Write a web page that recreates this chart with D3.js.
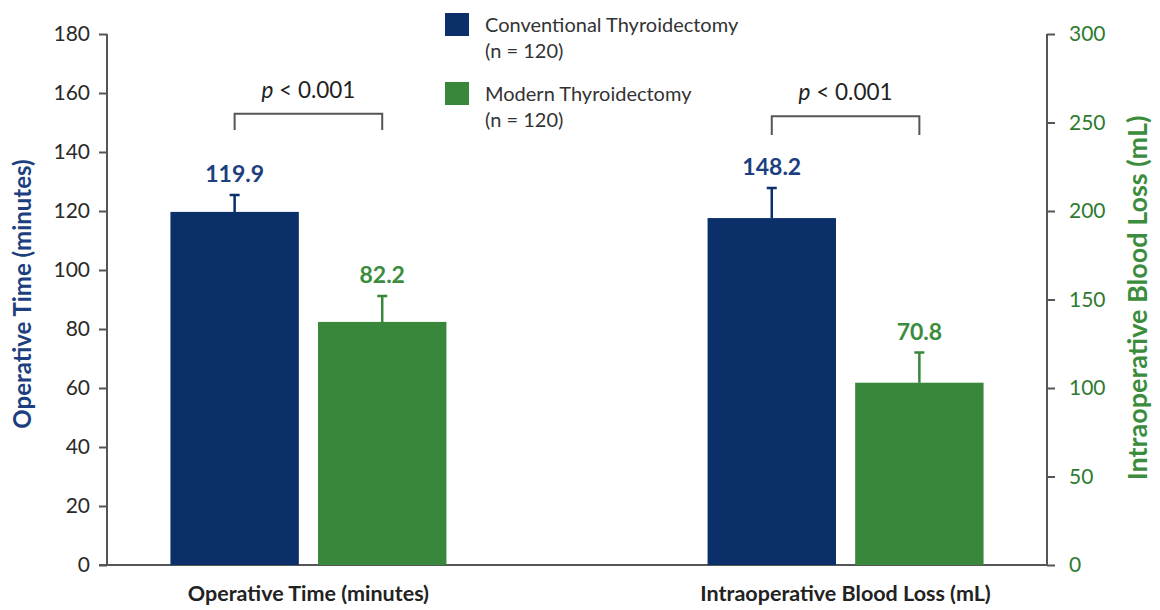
<!DOCTYPE html><html><meta charset="UTF-8">
<title>Thyroidectomy</title>
<style>
  body { margin: 0; background: #fff; overflow: hidden; }
  text { font-family: Lato, "Open Sans", sans-serif; }
  .tick text { font-size: 21px; fill: #2a2a2a; }
  .tick line, .domain { stroke: #555; stroke-width: 2px; }
</style>
<script src="https://cdn.jsdelivr.net/npm/d3@7"></script>
<svg width="1160" height="610"></svg>
<script>

// groups on the x axis, one y axis each
var groups = ["Operative Time (minutes)", "Intraoperative Blood Loss (mL)"];
var series = ["Conventional Thyroidectomy", "Modern Thyroidectomy"];
var seriesNotes = ["(n = 120)", "(n = 120)"];
var colors = ["#0a2f69", "#38873a"];
var labelColors = ["#1d3f80", "#3b8c3d"];

// bar heights as drawn, in each group's own axis units
var conventionalBar = [119.7, 196];
var modernBar = [82.4, 103];
// top of the error bars
var conventionalErr = [125.4, 213];
var modernErr = [91.2, 120];
// printed values
var conventionalLabel = ["119.9", "148.2"];
var modernLabel = ["82.2", "70.8"];

var pText = ["< 0.001", "< 0.001"];
var bracketTop = [153, 253.5];
var bracketBottom = [147.5, 243];

var leftTicks = [0, 20, 40, 60, 80, 100, 120, 140, 160, 180];
var rightTicks = [0, 50, 100, 150, 200, 250, 300];

var svg = d3.select("svg"),
    plotLeft = 107, plotRight = 1047, plotTop = 34, plotBottom = 565;

var yLeft = d3.scaleLinear().domain([0, 180]).range([plotBottom, plotTop]);
var yRight = d3.scaleLinear().domain([0, 300]).range([plotBottom, plotTop]);
var yScales = [yLeft, yRight];

var x = d3.scalePoint().domain(groups).range([plotLeft, plotRight]).padding(0.375);
var xs = d3.scaleBand().domain(series).range([-138, 138]).paddingInner(0.13);

// axes
svg.append("g")
    .attr("transform", "translate(" + plotLeft + ",0)")
    .call(d3.axisLeft(yLeft).tickValues(leftTicks).tickSize(8).tickSizeOuter(0).tickPadding(9))
    .call(g => g.select(".domain").remove());
svg.append("line").attr("x1", plotLeft).attr("x2", plotLeft).attr("y1", plotTop).attr("y2", plotBottom)
    .attr("stroke", "#555").attr("stroke-width", 2);

svg.append("g")
    .attr("transform", "translate(" + plotRight + ",0)")
    .call(d3.axisRight(yRight).tickValues(rightTicks).tickSize(8).tickSizeOuter(0).tickPadding(14))
    .call(g => g.select(".domain").remove())
    .selectAll("text").style("fill", "#2f7a31");
svg.append("line").attr("x1", plotRight).attr("x2", plotRight).attr("y1", plotTop).attr("y2", plotBottom)
    .attr("stroke", "#555").attr("stroke-width", 2);

svg.append("line").attr("x1", plotLeft - 8).attr("x2", plotRight).attr("y1", plotBottom).attr("y2", plotBottom)
    .attr("stroke", "#555").attr("stroke-width", 2);

// axis titles
svg.append("text")
    .attr("transform", "translate(31,294) rotate(-90)")
    .attr("text-anchor", "middle").attr("font-size", 24).attr("font-weight", "bold")
    .attr("fill", "#1d3f80").text("Operative Time (minutes)");
svg.append("text")
    .attr("transform", "translate(1147,298) rotate(-90)")
    .attr("text-anchor", "middle").attr("font-size", 27).attr("font-weight", "bold")
    .attr("fill", "#3b8c3d").text("Intraoperative Blood Loss (mL)");

// category labels
svg.selectAll(".cat").data(groups).enter().append("text")
    .attr("class", "cat")
    .attr("x", d => x(d)).attr("y", 601)
    .attr("text-anchor", "middle").attr("font-size", 21.5).attr("font-weight", "bold")
    .attr("fill", "#222").text(d => d);

// bars
var rows = [];
groups.forEach(function(g, i) {
  rows.push({group: g, s: 0, v: conventionalBar[i], err: conventionalErr[i], label: conventionalLabel[i], y: yScales[i]});
  rows.push({group: g, s: 1, v: modernBar[i], err: modernErr[i], label: modernLabel[i], y: yScales[i]});
});

function cx(d) { return x(d.group) + xs(series[d.s]) + xs.bandwidth() / 2; }

svg.selectAll(".bar").data(rows).enter().append("rect")
    .attr("class", "bar")
    .attr("x", d => x(d.group) + xs(series[d.s]))
    .attr("width", xs.bandwidth())
    .attr("y", d => d.y(d.v))
    .attr("height", d => d.y(0) - d.y(d.v))
    .attr("fill", d => colors[d.s]);

svg.selectAll(".err").data(rows).enter().append("path")
    .attr("class", "err")
    .attr("d", d => "M" + cx(d) + "," + d.y(d.v) + "V" + d.y(d.err) + "M" + (cx(d) - 5) + "," + d.y(d.err) + "H" + (cx(d) + 5))
    .attr("stroke", d => colors[d.s]).attr("stroke-width", 2.5).attr("fill", "none");

svg.selectAll(".val").data(rows).enter().append("text")
    .attr("class", "val")
    .attr("x", cx).attr("y", d => d.y(d.err) - 13)
    .attr("text-anchor", "middle").attr("font-size", 23).attr("font-weight", "bold")
    .attr("fill", d => labelColors[d.s]).text(d => d.label);

// significance brackets
groups.forEach(function(g, i) {
  var y = yScales[i],
      x1 = x(g) + xs(series[0]) + xs.bandwidth() / 2,
      x2 = x(g) + xs(series[1]) + xs.bandwidth() / 2;
  svg.append("path")
      .attr("d", "M" + x1 + "," + y(bracketBottom[i]) + "V" + y(bracketTop[i]) + "H" + x2 + "V" + y(bracketBottom[i]))
      .attr("stroke", "#555").attr("stroke-width", 2).attr("fill", "none");
  var t = svg.append("text")
      .attr("x", (x1 + x2) / 2).attr("y", y(bracketTop[i]) - 16)
      .attr("text-anchor", "middle").attr("font-size", 22.5).attr("fill", "#222");
  t.append("tspan").attr("font-style", "italic").text("p");
  t.append("tspan").text(" " + pText[i]);
});

// legend
var legend = svg.selectAll(".leg").data(series).enter().append("g")
    .attr("class", "leg")
    .attr("transform", (d, i) => "translate(445," + (13 + i * 69) + ")");
legend.append("rect").attr("width", 24).attr("height", 23).attr("fill", (d, i) => colors[i]);
legend.append("text").attr("x", 40).attr("y", 19).attr("font-size", 20).attr("fill", "#333").text(d => d);
legend.append("text").attr("x", 40).attr("y", 45).attr("font-size", 20).attr("fill", "#333").text((d, i) => seriesNotes[i]);

</script>
</html>
